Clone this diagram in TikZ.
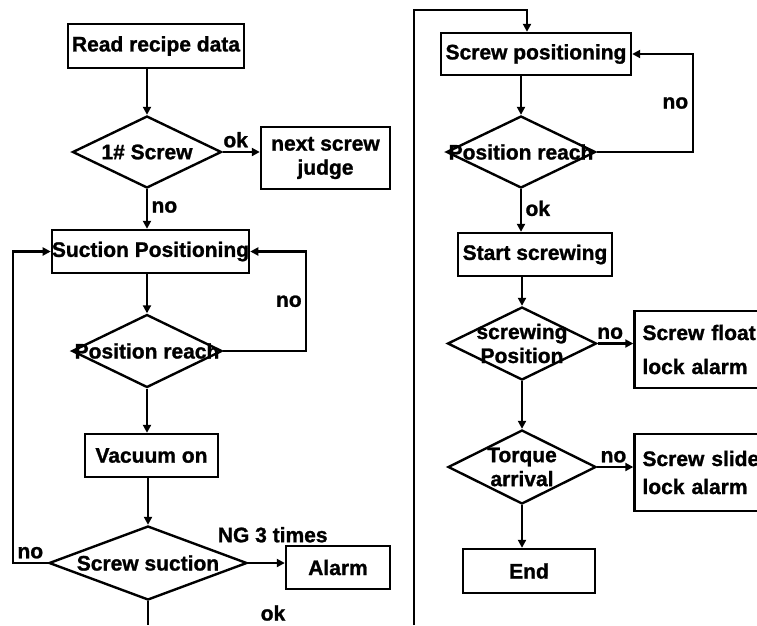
\documentclass[tikz,border=0pt]{standalone}
\usepackage{fontspec}
\setmainfont{Liberation Sans}[BoldFeatures={FakeBold=1.2}]
\usetikzlibrary{shapes.geometric,arrows.meta}

\begin{document}
\begin{tikzpicture}[x=1pt,y=-1pt,line width=2.4pt,
  every node/.style={font=\bfseries\fontsize{21}{24}\selectfont},
  box/.style={draw,rectangle,inner sep=0pt},
  dia/.style={draw,diamond,inner sep=0pt},
  arr/.style={-{Triangle[length=8pt,width=8pt]}}]
\useasboundingbox (0,0) rectangle (757,625);
\clip (0,0) rectangle (757,625);

% left column
\node[box,minimum width=176pt,minimum height=44pt] (read) at (156,46) {Read recipe data};
\node[dia,minimum width=149pt,minimum height=72pt,label=center:{1\# Screw}] (scr1) at (147,152) {};
\node[box,minimum width=129pt,minimum height=62pt,align=center] (next) at (325.5,158) {next screw\\judge};
\node[box,minimum width=193pt,minimum height=43pt] (suc) at (150.5,251.5) {Suction Positioning};
\node[dia,minimum width=150pt,minimum height=73pt,label=center:{Position reach}] (pos1) at (147,351) {};
\node[box,minimum width=133pt,minimum height=43pt] (vac) at (151.5,455.5) {Vacuum on};
\node[dia,minimum width=198pt,minimum height=74pt,label=center:{Screw suction}] (suck) at (148,563) {};
\node[box,minimum width=104pt,minimum height=43pt] (alarm) at (338,567.5) {Alarm};
\node (ok3) at (273,613) {ok};
\coordinate (e1) at (148,625);

\draw[arr] (scr1.north |- read.south) -- (scr1.north);
\draw[arr] (scr1.east) -- node[above,pos=0.35] {ok} (scr1.east -| next.west);
\draw[arr] (scr1.south) -- node[right,pos=0.45] {no} (scr1.south |- suc.north);
\draw[arr] (pos1.north |- suc.south) -- (pos1.north);
\draw[arr] (pos1.east) -- ++(83,0) |- node[left,pos=0.25] {no} (suc.east);
\draw[arr] (pos1.south) -- (pos1.south |- vac.north);
\draw[arr] (suck.north |- vac.south) -- (suck.north);
\draw[arr] (suck.east) -- node[above=16pt,pos=0.67] {NG 3 times} (suck.east -| alarm.west);
\draw[arr] (suck.west) -- node[above] {no} ++(-35,0) |- (suc.west);
\draw (suck.south) -- (e1);

% right column
\node[box,minimum width=190pt,minimum height=42pt] (spos) at (536,54) {Screw positioning};
\node[dia,minimum width=149pt,minimum height=72pt,label=center:{Position reach}] (pos2) at (521,152) {};
\node[box,minimum width=154pt,minimum height=43pt] (start) at (535,254.5) {Start screwing};
\node[dia,minimum width=149pt,minimum height=73pt,label={[align=center]center:screwing\\Position}] (swpos) at (522,343.5) {};
\node[box,minimum width=140pt,minimum height=77pt,text width=125pt,inner xsep=8pt,align=left] (float) at (705,349.5) {\raisebox{-3pt}{Screw float}\\[13pt]lock alarm};
\node[dia,minimum width=148pt,minimum height=74pt,label={[align=center]center:Torque\\arrival}] (torque) at (522,467) {};
\node[box,minimum width=140pt,minimum height=77pt,text width=125pt,inner xsep=8pt,align=left] (slide) at (705,472.5) {Screw slide\\[4pt]lock alarm};
\node[box,minimum width=132pt,minimum height=44pt] (stop) at (529,571) {End};
\coordinate (e2) at (414,625);
\coordinate (t) at (527,10);

\draw[arr] (e2) |- (t) -- (t |- spos.north);
\draw[arr] (pos2.north |- spos.south) -- (pos2.north);
\draw[arr] (pos2.east) -- ++(96,0) |- node[left,pos=0.25] {no} (spos.east);
\draw[arr] (pos2.south) -- node[right,pos=0.45] {ok} (pos2.south |- start.north);
\draw[arr] (swpos.north |- start.south) -- (swpos.north);
\draw[arr] (swpos.east) -- node[above,pos=0.35] {no} (swpos.east -| float.west);
\draw[arr] (swpos.south) -- (torque.north);
\draw[arr] (torque.east) -- node[above,pos=0.45] {no} (torque.east -| slide.west);
\draw[arr] (torque.south) -- (torque.south |- stop.north);
\end{tikzpicture}
\end{document}
